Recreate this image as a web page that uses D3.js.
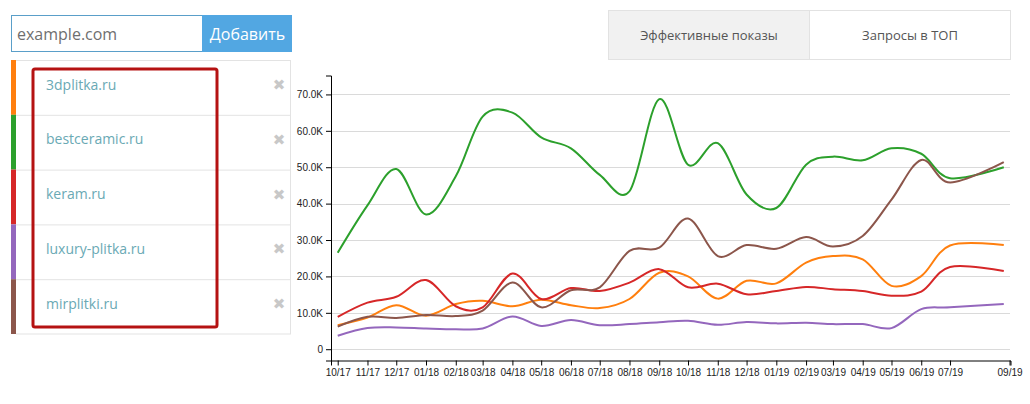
<!DOCTYPE html>
<html>
<head>
<meta charset="utf-8">
<script src="https://cdn.jsdelivr.net/npm/d3@7"></script>
<style>
  html, body { margin: 0; padding: 0; background: #fff; }
  svg { display: block; font-family: "Open Sans", sans-serif; }
  .axis text { font-family: "Liberation Sans", Arial, sans-serif; font-size: 10px; fill: #222; }
  .axis path, .axis line { stroke: #000; }
  .grid line { stroke: #dadada; }
</style>
</head>
<body>
<svg id="chart" width="1030" height="404"></svg>
<script>
// dates of the points (last one is end of August)
var dates = ["2017-10-01","2017-11-01","2017-12-01","2018-01-01","2018-02-01","2018-03-01",
             "2018-04-01","2018-05-01","2018-06-01","2018-07-01","2018-08-01","2018-09-01",
             "2018-10-01","2018-11-01","2018-12-01","2019-01-01","2019-02-01","2019-03-01",
             "2019-04-01","2019-05-01","2019-06-01","2019-07-01","2019-08-26"];

var tickDates = ["2017-10-01","2017-11-01","2017-12-01","2018-01-01","2018-02-01","2018-03-01",
                 "2018-04-01","2018-05-01","2018-06-01","2018-07-01","2018-08-01","2018-09-01",
                 "2018-10-01","2018-11-01","2018-12-01","2019-01-01","2019-02-01","2019-03-01",
                 "2019-04-01","2019-05-01","2019-06-01","2019-07-01","2019-09-01"];

var sites = ["3dplitka.ru", "bestceramic.ru", "keram.ru", "luxury-plitka.ru", "mirplitki.ru"];
var colours = ["#ff7f0e", "#2ca02c", "#d62728", "#9467bd", "#8c564b"];

var plitka3d    = [6600, 8700, 12100, 9200, 12400, 13300, 11800, 13600, 12100, 11300, 13800, 21000,
                   20000, 13900, 18800, 18100, 23800, 25600, 24700, 17400, 20100, 28500, 28600];
var bestceramic = [26500, 39500, 49500, 37000, 47500, 63900, 65000, 58200, 55200, 47900, 43400, 68700,
                   50700, 56600, 42500, 38800, 50700, 52900, 51900, 55200, 53700, 47000, 50000];
var keram       = [8900, 12800, 14400, 19000, 11800, 11500, 20800, 13800, 16800, 16000, 18300, 22000,
                   17000, 18000, 15100, 16000, 17100, 16500, 16000, 14700, 15800, 22600, 21500];
var luxury      = [3700, 5800, 6000, 5700, 5500, 5700, 9000, 6400, 8000, 6600, 6900, 7400,
                   7800, 6700, 7500, 7100, 7300, 6900, 6900, 5800, 11000, 11500, 12400];
var mirplitki   = [6200, 8900, 8600, 9400, 9100, 10600, 18300, 11500, 16200, 17000, 27000, 27900,
                   35900, 25600, 28600, 27600, 30800, 28200, 31100, 41100, 52000, 45800, 51400];

var yTicks = [0, 10000, 20000, 30000, 40000, 50000, 60000, 70000];
var tabs = ["Эффективные показы", "Запросы в ТОП"];

var parse = d3.timeParse("%Y-%m-%d");
var series = [plitka3d, bestceramic, keram, luxury, mirplitki].map(function(vals, i) {
  return {
    name: sites[i],
    colour: colours[i],
    values: vals.map(function(v, j) { return { date: parse(dates[j]), value: v }; })
  };
});

var svg = d3.select("#chart");

// ---- input + button ----
svg.append("rect").attr("x", 11.5).attr("y", 15.5).attr("width", 191).attr("height", 36)
  .attr("fill", "#fff").attr("stroke", "#5a9fc9");
svg.append("text").attr("x", 17).attr("y", 40).attr("font-size", 16).attr("fill", "#6f6f6f")
  .text("example.com");
svg.append("rect").attr("x", 202).attr("y", 15).attr("width", 90).attr("height", 37)
  .attr("fill", "#52a7e2");
svg.append("text").attr("x", 247.5).attr("y", 40).attr("text-anchor", "middle")
  .attr("font-size", 16).attr("fill", "#fff").text("Добавить");

// ---- tabs ----
tabs.forEach(function(t, i) {
  var x0 = 608.5 + i * 201;
  svg.append("rect").attr("x", x0).attr("y", 10.5).attr("width", 201).attr("height", 49)
    .attr("fill", i === 0 ? "#f1f1f1" : "#fff").attr("stroke", "#e2e2e2");
  svg.append("text").attr("x", x0 + 100.5).attr("y", 39.5).attr("text-anchor", "middle")
    .attr("font-size", 13).attr("fill", "#555").text(t);
});

// ---- sidebar list ----
var rowH = 54.8, listTop = 60;
var rows = svg.append("g").selectAll("g").data(series).enter().append("g")
  .attr("transform", function(d, i) { return "translate(0," + (listTop + i * rowH) + ")"; });
rows.append("rect").attr("x", 11).attr("y", 0).attr("width", 5).attr("height", rowH)
  .attr("fill", function(d) { return d.colour; });
rows.append("line").attr("x1", 16).attr("x2", 291).attr("y1", 0.5).attr("y2", 0.5)
  .attr("stroke", "#e3e3e3");
rows.append("text").attr("x", 46).attr("y", 29.5).attr("font-size", 14).attr("fill", "#6aa9b4")
  .text(function(d) { return d.name; });
rows.append("text").attr("x", 279).attr("y", 30).attr("text-anchor", "middle")
  .attr("font-size", 15).attr("fill", "#c8c8c8").attr("font-family", "DejaVu Sans").text("✖");
svg.append("line").attr("x1", 16).attr("x2", 291).attr("y1", listTop + 5 * rowH)
  .attr("y2", listTop + 5 * rowH).attr("stroke", "#e3e3e3");
svg.append("line").attr("x1", 290.5).attr("x2", 290.5).attr("y1", listTop)
  .attr("y2", listTop + 5 * rowH).attr("stroke", "#e3e3e3");
svg.append("rect").attr("x", 33).attr("y", 69).attr("width", 184).attr("height", 258)
  .attr("rx", 2).attr("fill", "none").attr("stroke", "#b51212").attr("stroke-width", 3);

// ---- chart ----
var allDates = series[0].values.map(function(d) { return d.date; });
var xScale = d3.scaleTime()
  .domain([d3.timeDay.offset(d3.min(allDates), -7), d3.timeDay.offset(d3.max(allDates), 7)])
  .range([331, 1010.5]);
var yScale = d3.scaleLinear()
  .domain([-3100, 75200])
  .range([360.5, 75.5]);

var g = svg.append("g");

g.append("g").attr("class", "grid")
  .selectAll("line").data(yTicks).enter().append("line")
  .attr("x1", 331).attr("x2", 1010)
  .attr("y1", function(d) { return Math.round(yScale(d)) + 0.5; })
  .attr("y2", function(d) { return Math.round(yScale(d)) + 0.5; });

var line = d3.line()
  .curve(d3.curveCardinal)
  .x(function(d) { return xScale(d.date); })
  .y(function(d) { return yScale(d.value); });

g.selectAll(".series").data(series).enter().append("path")
  .attr("class", "series")
  .attr("d", function(d) { return line(d.values); })
  .attr("fill", "none")
  .attr("stroke", function(d) { return d.colour; })
  .attr("stroke-width", 2);

g.append("g").attr("class", "axis")
  .attr("transform", "translate(0,360.5)")
  .call(d3.axisBottom(xScale)
    .tickValues(tickDates.map(parse))
    .tickSize(5)
    .tickFormat(d3.timeFormat("%m/%y")));

g.append("g").attr("class", "axis")
  .attr("transform", "translate(331,0)")
  .call(d3.axisLeft(yScale)
    .tickValues(yTicks)
    .tickSize(5)
    .tickFormat(function(v) { return v === 0 ? "0" : (v / 1000).toFixed(1) + "K"; }));
</script>
</body>
</html>
